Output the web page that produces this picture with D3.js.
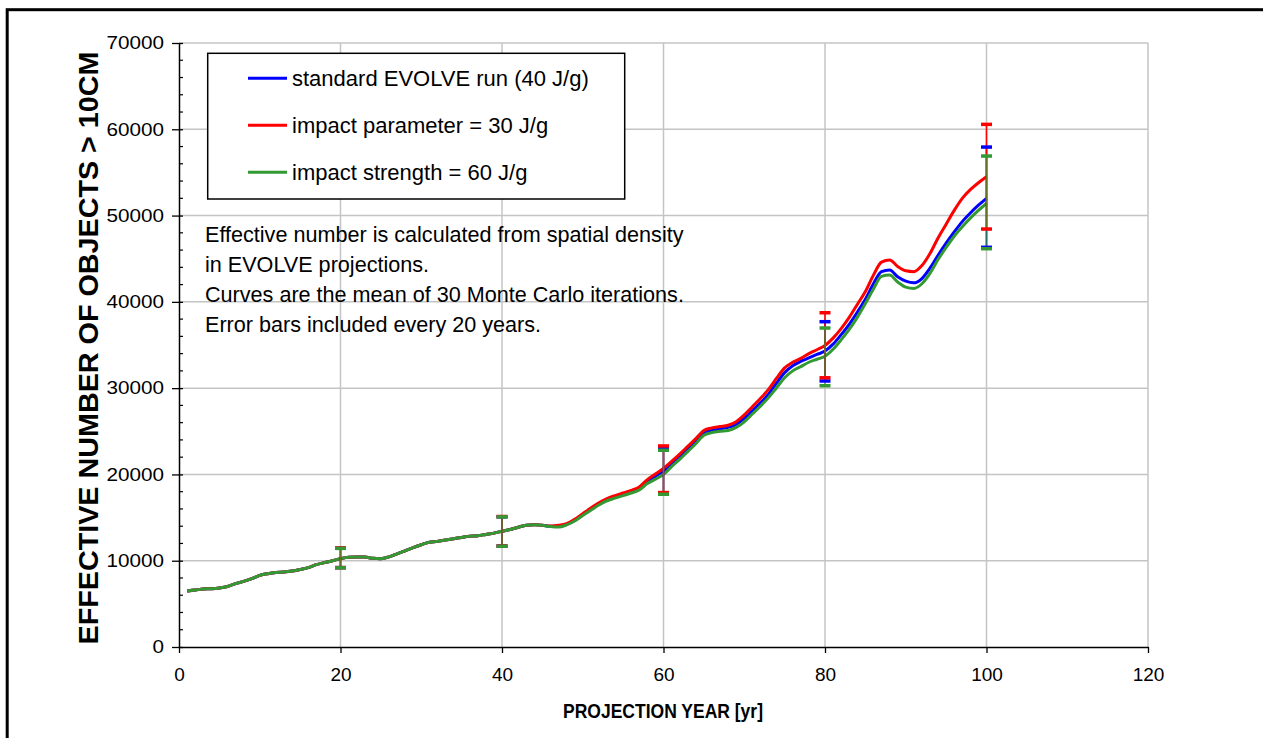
<!DOCTYPE html>
<html>
<head>
<meta charset="utf-8">
<script src="https://cdn.jsdelivr.net/npm/d3@7"></script>
<style>
  body { margin: 0; background: #fff; }
  svg { display: block; font-family: "Liberation Sans", Arial, sans-serif; }
</style>
</head>
<body>
<svg id="chart" width="1263" height="738"></svg>
<script>
// projection years (1..100)
const years = [1,2,3,4,5,6,7,8,9,10,11,12,13,14,15,16,17,18,19,20,
  21,22,23,24,25,26,27,28,29,30,31,32,33,34,35,36,37,38,39,40,
  41,42,43,44,45,46,47,48,49,50,51,52,53,54,55,56,57,58,59,60,
  61,62,63,64,65,66,67,68,69,70,71,72,73,74,75,76,77,78,79,80,
  81,82,83,84,85,86,87,88,89,90,91,92,93,94,95,96,97,98,99,100];

// standard EVOLVE run (40 J/g)
const standardRun = [6500,6600,6720,6760,6850,7020,7350,7600,7920,8300,
  8500,8630,8680,8800,8980,9200,9540,9780,10000,10240,
  10400,10430,10430,10280,10240,10450,10800,11150,11520,11850,
  12150,12240,12400,12550,12700,12850,12900,13050,13200,13410,
  13620,13880,14120,14180,14100,13980,13960,14200,14700,15350,
  16000,16600,17100,17400,17700,18000,18400,19200,19800,20400,
  21200,22000,22900,23800,24800,25100,25300,25450,25800,26500,
  27400,28300,29300,30600,31800,32600,33100,33500,33900,34300,
  35100,36200,37400,38800,40300,42100,43500,43700,42900,42400,
  42200,42700,43900,45400,46800,48100,49300,50300,51200,52000];

// impact parameter = 30 J/g
const impact30 = [6500,6600,6720,6760,6850,7020,7350,7600,7920,8300,
  8500,8630,8680,8800,8980,9200,9540,9780,10000,10240,
  10400,10430,10430,10280,10240,10450,10800,11150,11520,11850,
  12150,12240,12400,12550,12700,12850,12900,13050,13200,13410,
  13620,13880,14120,14180,14100,14020,14100,14300,14800,15450,
  16100,16700,17200,17550,17850,18150,18550,19400,20050,20700,
  21500,22350,23250,24150,25100,25400,25550,25700,26100,26900,
  27850,28800,29850,31150,32350,33000,33450,34000,34450,34950,
  35800,36900,38200,39700,41200,43100,44600,44850,44100,43600,
  43500,44200,45600,47400,49000,50600,52000,53000,53800,54500];

// impact strength = 60 J/g
const strength60 = [6500,6600,6720,6760,6850,7020,7350,7600,7920,8300,
  8500,8630,8680,8800,8980,9200,9540,9780,10000,10240,
  10400,10430,10430,10280,10240,10450,10800,11150,11520,11850,
  12150,12240,12400,12550,12700,12850,12900,13050,13200,13410,
  13620,13880,14120,14180,14100,13960,13900,14150,14600,15250,
  15850,16450,16950,17250,17550,17850,18200,18950,19450,20000,
  20900,21750,22650,23550,24550,24850,25000,25100,25450,26100,
  27000,27900,28900,30050,31200,32000,32500,33000,33350,33700,
  34500,35600,36800,38200,39800,41500,42950,43100,42300,41700,
  41550,42100,43300,44900,46300,47600,48700,49700,50600,51400];

// error bars every 20 years
const errYears = [20, 40, 60, 80, 100];
const standardLow = [9200, 11700, 17800, 30830, 46320];
const standardHigh = [11450, 15100, 23000, 37700, 57940];
const impact30Low = [9200, 11700, 17900, 31200, 48440];
const impact30High = [11480, 15120, 23300, 38740, 60570];
const strength60Low = [9180, 11680, 17700, 30280, 46160];
const strength60High = [11430, 15080, 22800, 36970, 56900];

const xTicks = [0, 20, 40, 60, 80, 100, 120];
const yTicks = [0, 10000, 20000, 30000, 40000, 50000, 60000, 70000];
const yMinorTicks = d3.range(0, 70001, 2000);

const legendLabels = ["standard EVOLVE run (40 J/g)", "impact parameter = 30 J/g", "impact strength = 60 J/g"];
const noteLines = [
  "Effective number is calculated from spatial density",
  "in EVOLVE projections.",
  "Curves are the mean of 30 Monte Carlo iterations.",
  "Error bars included every 20 years."
];

const series = [
  { name: legendLabels[0], color: "#0000ff", values: standardRun, low: standardLow, high: standardHigh, barOpacity: 1 },
  { name: legendLabels[1], color: "#ff0000", values: impact30, low: impact30Low, high: impact30High, barOpacity: 1 },
  { name: legendLabels[2], color: "#339933", values: strength60, low: strength60Low, high: strength60High, barOpacity: 0.75 }
];

const svg = d3.select("#chart");

// outer frame
svg.append("rect")
  .attr("x", 7.2).attr("y", 9.7)
  .attr("width", 1400).attr("height", 900)
  .attr("fill", "none").attr("stroke", "#000").attr("stroke-width", 3);

const x = d3.scaleLinear().domain([0, 120]).range([179, 1148]);
const y = d3.scaleLinear().domain([0, 70000]).range([647, 43]);

// gridlines
const grid = svg.append("g").attr("class", "grid");
grid.selectAll(".vgrid")
  .data(xTicks.slice(1))
  .enter().append("line")
  .attr("x1", (d) => x(d)).attr("x2", (d) => x(d))
  .attr("y1", y(0)).attr("y2", y(70000))
  .attr("stroke", "#c4c4c4").attr("stroke-width", 1.5);
grid.selectAll(".hgrid")
  .data(yTicks.slice(1))
  .enter().append("line")
  .attr("x1", x(0)).attr("x2", x(120))
  .attr("y1", (d) => y(d)).attr("y2", (d) => y(d))
  .attr("stroke", "#c4c4c4").attr("stroke-width", 1.5);

// annotation text (no background)
svg.append("g")
  .selectAll("text")
  .data(noteLines)
  .enter().append("text")
  .attr("x", 205)
  .attr("y", (d, i) => 242 + i * 30)
  .attr("font-size", 21.6)
  .attr("fill", "#000")
  .text((d) => d);

// curves
const line = d3.line()
  .x((d) => x(d[0]))
  .y((d) => y(d[1]))
  .curve(d3.curveMonotoneX);

svg.append("g")
  .selectAll("path")
  .data(series)
  .enter().append("path")
  .attr("d", (s) => line(years.map((yr, i) => [yr, s.values[i]])))
  .attr("fill", "none")
  .attr("stroke", (s) => s.color)
  .attr("stroke-width", 3)
  .attr("stroke-linejoin", "round");

// error bars
const bars = svg.append("g").attr("class", "errorbars");
series.forEach((s) => {
  const g = bars.append("g").attr("opacity", s.barOpacity);
  g.selectAll(".stem")
    .data(errYears)
    .enter().append("line")
    .attr("x1", (d) => x(d)).attr("x2", (d) => x(d))
    .attr("y1", (d, i) => y(s.low[i])).attr("y2", (d, i) => y(s.high[i]))
    .attr("stroke", s.color).attr("stroke-width", 1.6);
});
series.forEach((s) => {
  const caps = errYears.flatMap((d, i) => [[d, s.low[i]], [d, s.high[i]]]);
  bars.append("g")
    .selectAll("line")
    .data(caps)
    .enter().append("line")
    .attr("x1", (d) => x(d[0]) - 5.5).attr("x2", (d) => x(d[0]) + 5.5)
    .attr("y1", (d) => y(d[1])).attr("y2", (d) => y(d[1]))
    .attr("stroke", s.color).attr("stroke-width", 3.5);
});

// axes
const yAxis = d3.axisLeft(y)
  .tickValues(yTicks)
  .tickSizeInner(7).tickSizeOuter(0)
  .tickPadding(8)
  .tickFormat((d) => String(d));
const yAxisG = svg.append("g")
  .attr("transform", `translate(${x(0)},0)`)
  .call(yAxis);
yAxisG.select(".domain").attr("stroke", "#000").attr("stroke-width", 1.5);
yAxisG.selectAll(".tick line").attr("stroke", "#000").attr("stroke-width", 1.3).attr("x2", -7).attr("x1", 4);
yAxisG.selectAll(".tick text")
  .attr("font-size", 18)
  .attr("font-family", "Liberation Sans, Arial, sans-serif")
  .attr("fill", "#000")
  .attr("textLength", (d) => String(d).length * 11.5)
  .attr("lengthAdjust", "spacingAndGlyphs");

svg.append("g")
  .selectAll("line")
  .data(yMinorTicks.filter((d) => d % 10000 !== 0))
  .enter().append("line")
  .attr("x1", x(0)).attr("x2", x(0) + 4)
  .attr("y1", (d) => y(d)).attr("y2", (d) => y(d))
  .attr("stroke", "#000").attr("stroke-width", 1.2);

const xAxis = d3.axisBottom(x)
  .tickValues(xTicks)
  .tickSizeInner(6).tickSizeOuter(0)
  .tickPadding(15)
  .tickFormat((d) => String(d));
const xAxisG = svg.append("g")
  .attr("transform", `translate(0,${y(0)})`)
  .call(xAxis);
xAxisG.select(".domain").attr("stroke", "#000").attr("stroke-width", 1.5);
xAxisG.selectAll(".tick line").attr("stroke", "#000").attr("stroke-width", 1.3);
xAxisG.selectAll(".tick text")
  .attr("font-size", 19)
  .attr("font-family", "Liberation Sans, Arial, sans-serif")
  .attr("fill", "#000");

// axis titles
svg.append("text")
  .attr("x", 663).attr("y", 718)
  .attr("text-anchor", "middle")
  .attr("font-size", 20).attr("font-weight", "bold")
  .attr("textLength", 200).attr("lengthAdjust", "spacingAndGlyphs")
  .text("PROJECTION YEAR [yr]");

svg.append("text")
  .attr("transform", "translate(98,348) rotate(-90)")
  .attr("text-anchor", "middle")
  .attr("font-size", 28).attr("font-weight", "bold")
  .attr("textLength", 593).attr("lengthAdjust", "spacingAndGlyphs")
  .text("EFFECTIVE NUMBER OF OBJECTS > 10CM");

// legend
const legend = svg.append("g");
legend.append("rect")
  .attr("x", 207.7).attr("y", 53.3)
  .attr("width", 417).attr("height", 145.7)
  .attr("fill", "#fff").attr("stroke", "#000").attr("stroke-width", 1.5);
const items = legend.selectAll(".item")
  .data(series)
  .enter().append("g")
  .attr("transform", (d, i) => `translate(0,${78.3 + i * 47})`);
items.append("line")
  .attr("x1", 248).attr("x2", 287)
  .attr("stroke", (d) => d.color).attr("stroke-width", 3);
items.append("text")
  .attr("x", 292).attr("y", 7.7)
  .attr("font-size", 22)
  .text((d) => d.name);
</script>
</body>
</html>
